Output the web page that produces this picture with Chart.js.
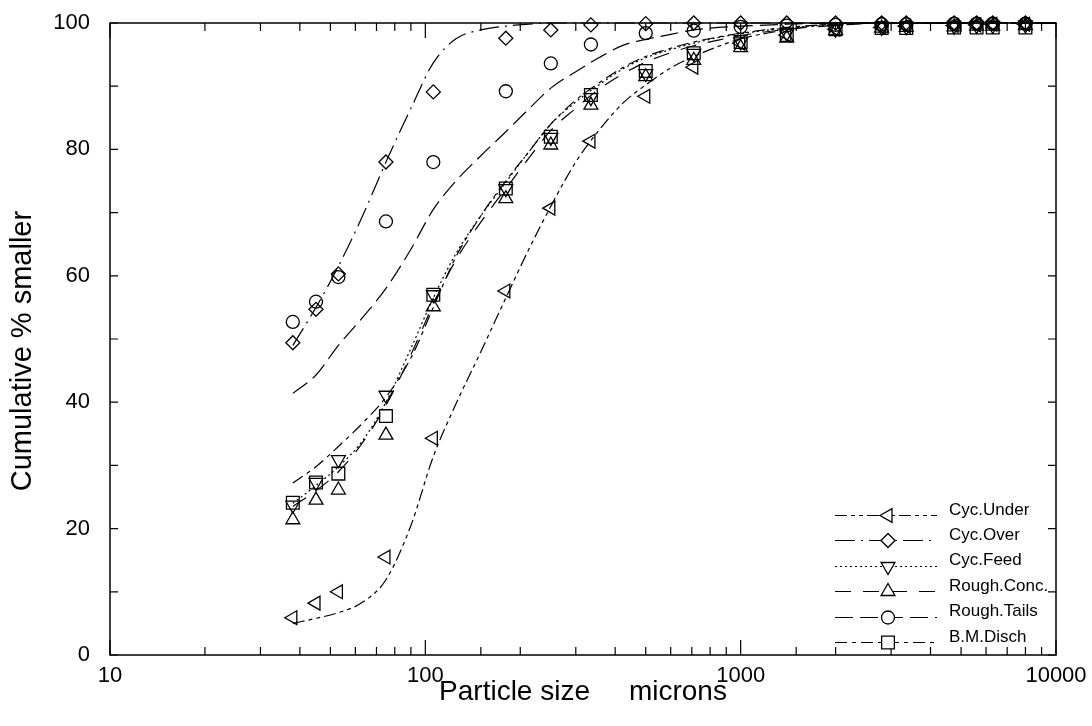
<!DOCTYPE html>
<html lang="en">
<head>
  <meta charset="UTF-8" />
  <title>Cumulative size distribution</title>
  <script src="https://cdn.jsdelivr.net/npm/chart.js@4.4.0/dist/chart.umd.min.js"></script>
  <style>
    body  { margin:0; background:#fff; }
    .wrap { width:1092px; height:726px; }
  </style>
</head>
<body>
  <div class="wrap"><canvas id="psd"></canvas></div>

  <script>
    /* ── data ── */
    const sieveSizes = [38, 45, 53, 75, 106, 180, 250, 335, 500, 710, 1000, 1400, 2000, 2800, 3350, 4750, 5600, 6300, 8000];

    const cycUnderPts  = [5.9, 8.2, 10.0, 15.5, 34.3, 57.6, 70.7, 81.3, 88.4, 93.0, 96.8, 98.1, 99.0, 99.3, 99.5, 99.6, 99.7, 99.8, 99.8];
    const cycOverPts   = [49.4, 54.7, 60.3, 78.0, 89.1, 97.6, 98.9, 99.7, 99.9, 100, 100, 100, 100, 100, 100, 100, 100, 100, 100];
    const cycFeedPts   = [23.7, 27.3, 30.9, 41.1, 57.0, 73.8, 81.9, 88.2, 92.0, 95.2, 97.0, 98.4, 99.0, 99.3, 99.4, 99.5, 99.6, 99.6, 99.7];
    const roughConcPts = [21.4, 24.5, 26.1, 34.8, 55.1, 72.2, 80.7, 87.0, 91.5, 94.1, 96.1, 97.6, 98.8, 99.2, 99.3, 99.4, 99.5, 99.5, 99.6];
    const roughTailPts = [52.7, 55.9, 59.8, 68.6, 78.0, 89.2, 93.6, 96.6, 98.4, 98.8, 99.4, 99.6, 99.7, 99.8, 99.8, 99.9, 99.9, 99.9, 99.9];
    const bmDischPts   = [24.1, 27.3, 28.7, 37.8, 57.0, 73.8, 82.0, 88.6, 92.4, 95.2, 97.0, 98.1, 99.0, 99.2, 99.2, 99.3, 99.3, 99.3, 99.3];

    // fitted curves, sampled on a common size grid
    const fitSizes = [38, 45, 53, 63, 75, 90, 106, 125, 150, 180, 212, 250, 300, 355, 425, 500, 600, 710, 850, 1000, 1400, 2000, 2800, 4000, 5600, 8000, 10000];

    const cycUnderFit  = [5.0, 5.8, 6.7, 8.3, 11.9, 20.5, 31.4, 39.7, 48.0, 56.5, 64.0, 71.0, 78.0, 83.0, 87.4, 90.2, 92.9, 94.7, 96.3, 97.5, 98.9, 99.9, 100, 100, 100, 100, 100];
    const cycOverFit   = [49.0, 55.0, 61.5, 69.3, 78.0, 86.5, 93.7, 97.5, 98.9, 99.5, 99.8, 100, 100, 100, 100, 100, 100, 100, 100, 100, 100, 100, 100, 100, 100, 100, 100];
    const cycFeedFit   = [24.0, 26.8, 29.8, 33.8, 40.0, 48.5, 56.5, 63.5, 69.5, 74.8, 79.5, 84.0, 87.5, 90.2, 92.8, 94.5, 95.8, 96.8, 97.7, 98.3, 99.2, 99.7, 100, 100, 100, 100, 100];
    const roughConcFit = [23.5, 26.0, 29.0, 33.5, 39.5, 47.5, 55.5, 62.5, 68.5, 73.8, 78.5, 83.0, 86.5, 89.5, 92.0, 93.8, 95.3, 96.4, 97.3, 98.0, 99.0, 99.6, 100, 100, 100, 100, 100];
    const roughTailFit = [41.4, 44.3, 49.0, 53.3, 58.0, 64.2, 70.5, 75.0, 79.0, 82.8, 86.3, 89.7, 92.3, 94.5, 96.5, 97.4, 98.2, 98.9, 99.3, 99.5, 99.8, 100, 100, 100, 100, 100, 100];
    const bmDischFit   = [27.2, 29.8, 33.0, 36.6, 40.8, 47.0, 55.0, 63.0, 69.5, 75.0, 79.5, 84.0, 87.8, 90.5, 93.0, 94.7, 96.0, 97.0, 97.8, 98.4, 99.3, 99.8, 100, 100, 100, 100, 100];

    const seriesNames = ['Cyc.Under', 'Cyc.Over', 'Cyc.Feed', 'Rough.Conc.', 'Rough.Tails', 'B.M.Disch'];

    /* ── styling per series ── */
    const series = [
      { pts: cycUnderPts,  fit: cycUnderFit,  dash: [12, 4, 4, 4, 4, 4], style: 'triangle', rot: 270, r: 8 },
      { pts: cycOverPts,   fit: cycOverFit,   dash: [20, 6, 2, 6],       style: 'rectRot',  rot: 0,   r: 7 },
      { pts: cycFeedPts,   fit: cycFeedFit,   dash: [2, 3],              style: 'triangle', rot: 180, r: 8 },
      { pts: roughConcPts, fit: roughConcFit, dash: [16, 12],            style: 'triangle', rot: 0,   r: 8 },
      { pts: roughTailPts, fit: roughTailFit, dash: [18, 7],             style: 'circle',   rot: 0,   r: 6.5 },
      { pts: bmDischPts,   fit: bmDischFit,   dash: [12, 5, 4, 5],       style: 'rect',     rot: 0,   r: 9 }
    ];

    const FONT = '"Liberation Sans", Arial, sans-serif';
    const toXY = (xs, ys) => xs.map((x, i) => ({ x, y: ys[i] }));

    const datasets = [];
    series.forEach((s, i) => {
      datasets.push({
        label: seriesNames[i] + ' fit',
        data: toXY(fitSizes, s.fit),
        showLine: true,
        borderColor: '#000',
        borderWidth: 1.2,
        borderDash: s.dash,
        pointRadius: 0,
        cubicInterpolationMode: 'monotone',
        clip: false
      });
      datasets.push({
        label: seriesNames[i],
        data: toXY(sieveSizes, s.pts),
        showLine: false,
        pointStyle: s.style,
        rotation: s.rot,
        pointRadius: s.r,
        pointBorderColor: '#000',
        pointBackgroundColor: 'rgba(0,0,0,0)',
        pointBorderWidth: 1.3,
        clip: false
      });
    });

    const isDecade = v => { const l = Math.log10(v); return Math.abs(l - Math.round(l)) < 1e-9; };

    /* box frame, inward ticks and the legend */
    const framePlugin = {
      id: 'frame',
      afterDraw(chart) {
        const { ctx, chartArea: a, scales: { x, y } } = chart;
        ctx.save();
        ctx.strokeStyle = '#000';
        ctx.lineWidth = 1.5;
        ctx.setLineDash([]);
        ctx.strokeRect(a.left, a.top, a.right - a.left, a.bottom - a.top);

        ctx.lineWidth = 1.2;
        ctx.beginPath();
        y.ticks.forEach(t => {
          const py = y.getPixelForValue(t.value);
          ctx.moveTo(a.left, py);  ctx.lineTo(a.left + 8, py);
          ctx.moveTo(a.right, py); ctx.lineTo(a.right - 8, py);
        });
        x.ticks.forEach(t => {
          const px = x.getPixelForValue(t.value);
          const len = isDecade(t.value) ? 15 : 8;
          ctx.moveTo(px, a.bottom); ctx.lineTo(px, a.bottom - len);
          ctx.moveTo(px, a.top);    ctx.lineTo(px, a.top + len);
        });
        ctx.stroke();

        // legend
        ctx.font = '17px ' + FONT;
        ctx.textBaseline = 'middle';
        series.forEach((s, i) => {
          const ty = 510 + i * 25.4;
          const ly = Math.round(ty + 5) + 0.5;
          ctx.strokeStyle = '#000';
          ctx.lineWidth = 1.2;
          ctx.setLineDash(s.dash);
          ctx.beginPath();
          ctx.moveTo(835, ly);
          ctx.lineTo(937, ly);
          ctx.stroke();
          ctx.setLineDash([]);
          ctx.lineWidth = 1.3;
          ctx.fillStyle = '#fff';
          Chart.helpers.drawPoint(ctx, { pointStyle: s.style, rotation: s.rot, radius: s.r, borderWidth: 1.3 }, 888, ly);
          ctx.fillStyle = '#000';
          ctx.fillText(seriesNames[i], 949, ty);
        });
        ctx.restore();
      }
    };

    new Chart(document.getElementById('psd'), {
      type: 'scatter',
      data: { datasets },
      options: {
        responsive: true,
        maintainAspectRatio: false,
        animation: false,
        layout: { padding: { top: 23, right: 36, left: 0, bottom: 0 } },
        plugins: { legend: { display: false }, tooltip: { enabled: false } },
        scales: {
          x: {
            type: 'logarithmic',
            min: 10, max: 10000,
            grid: { display: false, drawTicks: false },
            border: { display: false },
            ticks: {
              autoSkip: false, maxRotation: 0, padding: 8,
              color: '#000',
              font: { family: FONT, size: 22 },
              callback: v => isDecade(v) ? String(Math.round(v)) : ''
            },
            title: {
              display: true, text: 'Particle size     microns', color: '#000',
              font: { family: FONT, size: 28 },
              padding: { top: 0, bottom: 17 }
            },
            // fixed box so the plot area matches the reference
            afterFit: s => { s.height = 71; s.paddingLeft = 0; s.paddingRight = 0; }
          },
          y: {
            min: 0, max: 100,
            grid: { display: false, drawTicks: false },
            border: { display: false },
            ticks: {
              stepSize: 10, padding: 20, color: '#000',
              font: { family: FONT, size: 22 },
              callback: v => v % 20 === 0 ? v : ''
            },
            title: {
              display: true, text: 'Cumulative % smaller   ', color: '#000',
              font: { family: FONT, size: 29 },
              padding: { top: 6, bottom: 0 }
            },
            afterFit: s => { s.width = 110; s.paddingTop = 0; s.paddingBottom = 0; }
          }
        }
      },
      plugins: [framePlugin]
    });
  </script>
</body>
</html>
